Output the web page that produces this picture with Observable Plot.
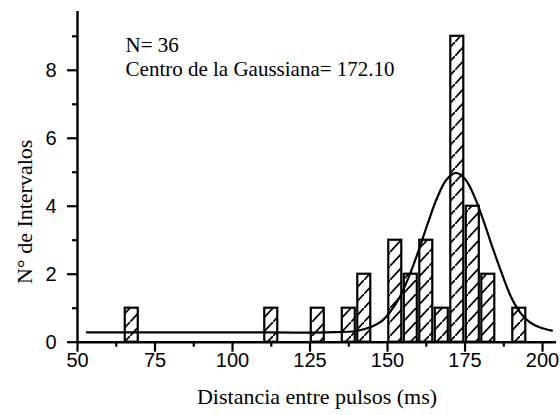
<!DOCTYPE html>
<html><head><meta charset="utf-8">
<script src="https://cdn.jsdelivr.net/npm/d3@7"></script>
<script src="https://cdn.jsdelivr.net/npm/@observablehq/plot@0.6"></script>
<style>body{margin:0;background:#fff}</style>
</head><body><div id="chart"></div>
<script>
// Histogram bins (left edge, ms) and counts
const binStart = [65, 110, 125, 135, 140, 150, 155, 160, 165, 170, 175, 180, 190];
const binWidth = 5;
const counts = [1, 1, 1, 1, 2, 3, 2, 3, 1, 9, 4, 2, 1];
// Fitted Gaussian curve
const fitX = [53, 100, 130, 140, 145, 148, 151, 154, 157, 160, 163, 166, 169, 172, 175, 178, 181, 184, 187, 190, 193, 196, 199, 203];
const fitY = [0.29, 0.29, 0.29, 0.33, 0.46, 0.61, 0.91, 1.34, 1.95, 2.69, 3.50, 4.25, 4.78, 4.98, 4.80, 4.29, 3.56, 2.75, 1.99, 1.30, 0.85, 0.58, 0.44, 0.34];
// Ticks
const xMajorTicks = [50, 75, 100, 125, 150, 175, 200];
const xMinorTicks = [62.5, 87.5, 112.5, 137.5, 162.5, 187.5];
const yMajorTicks = [0, 2, 4, 6, 8];
const yMinorTicks = [1, 3, 5, 7, 9];
// Text
const noteLines = ["N= 36", "Centro de la Gaussiana= 172.10"];
const noteX = [65.5, 65.5];
const noteY = [8.53, 7.84];
const xLabel = "Distancia entre pulsos (ms)";
const yLabel = "N° de Intervalos";

const bars = binStart.map((s, i) => ({x1: s, x2: s + binWidth, count: counts[i]}));
const fit = fitX.map((x, i) => ({x, y: fitY[i]}));
const notes = noteLines.map((t, i) => ({t, x: noteX[i], y: noteY[i]}));

const serif = "'Liberation Serif', 'Times New Roman', serif";
const sans = "'Liberation Sans', Arial, sans-serif";

const svg = Plot.plot({
  width: 560,
  height: 415,
  marginLeft: 77,
  marginRight: 4,
  marginTop: 11,
  marginBottom: 73.3,
  x: {domain: [50, 204.5], axis: null},
  y: {domain: [0, 9.73], axis: null},
  style: {fontFamily: sans, background: "white", color: "black"},
  marks: [
    Plot.rectY(bars, {x1: "x1", x2: "x2", y: "count", fill: "url(#hatch)", stroke: "black", strokeWidth: 2.2, insetLeft: 1.25, insetRight: 1.25}),
    Plot.line(fit, {x: "x", y: "y", curve: "catmull-rom", stroke: "black", strokeWidth: 2.2}),
    Plot.ruleY([0], {strokeWidth: 2.4}),
    Plot.ruleX([50], {strokeWidth: 2.4}),
    Plot.axisX(xMajorTicks, {tickSize: 10, tickPadding: 1, fontSize: 20, strokeWidth: 2.2, label: null}),
    Plot.axisX(xMinorTicks, {tickSize: 5, text: null, strokeWidth: 2.2, label: null}),
    Plot.axisY(yMajorTicks, {tickSize: 10, tickPadding: 11, fontSize: 20, strokeWidth: 2.2, label: null}),
    Plot.axisY(yMinorTicks, {tickSize: 5, text: null, strokeWidth: 2.2, label: null}),
    Plot.text(notes, {x: "x", y: "y", text: "t", textAnchor: "start", lineAnchor: "bottom", fontSize: 21, fontFamily: serif}),
    Plot.text([xLabel], {text: d => d, frameAnchor: "bottom", textAnchor: "middle", lineAnchor: "bottom", dy: 61.3, fontSize: 22, fontFamily: serif}),
    Plot.text([yLabel], {text: d => d, frameAnchor: "left", textAnchor: "middle", rotate: -90, lineAnchor: "bottom", dx: -45.3, dy: 35, fontSize: 22, fontFamily: serif})
  ]
});

const defs = d3.select(svg).insert("defs", ":first-child");
const pat = defs.append("pattern").attr("id", "hatch").attr("patternUnits", "userSpaceOnUse").attr("width", 13).attr("height", 14);
pat.append("rect").attr("width", 13).attr("height", 14).attr("fill", "white");
pat.append("path").attr("d", "M-1.3,15.4L14.3,-1.4").attr("stroke", "black").attr("stroke-width", 1.8).attr("fill", "none");

document.getElementById("chart").appendChild(svg);
</script>
</body></html>
